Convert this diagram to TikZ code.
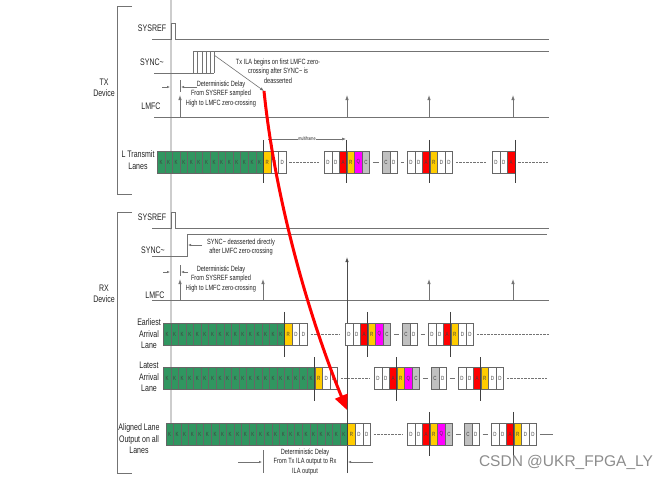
\documentclass[tikz,border=0pt]{standalone}
\usepackage{fontspec}
\setmainfont{Liberation Sans}[FakeStretch=0.74]
\newfontfamily\wmfont{Liberation Sans}
\usetikzlibrary{arrows.meta}

\definecolor{sigline}{RGB}{115,115,115}
\definecolor{guide}{RGB}{205,205,205}
\definecolor{kgreen}{RGB}{48,150,96}
\definecolor{ryellow}{RGB}{255,204,0}
\definecolor{ared}{RGB}{255,0,0}
\definecolor{qmag}{RGB}{255,0,255}
\definecolor{cgray}{RGB}{192,192,192}
\definecolor{txtcol}{RGB}{35,35,35}

\begin{document}
\begin{tikzpicture}[x=1pt,y=-1pt,
    sig/.style={draw=sigline,line width=0.8pt},
    lmfcarr/.style={sig,-{Latex[length=5pt,width=3.5pt]}},
    laneblk/.style={draw=black!60,line width=0.5pt,anchor=west,minimum width=7.58pt,minimum height=22pt,inner sep=0pt,font=\fontsize{6}{6}\selectfont,text=black!75},
    blkK/.style={fill=kgreen},
    blkR/.style={fill=ryellow},
    blkA/.style={fill=ared},
    blkQ/.style={fill=qmag},
    blkC/.style={fill=cgray},
    blkD/.style={fill=white},
    gap/.style={draw=sigline,line width=0.6pt,dash pattern=on 2.5pt off 1pt,shorten <=3pt,shorten >=5pt},
    link/.style={draw=sigline,line width=0.6pt,shorten <=3pt,shorten >=3pt},
    boundary/.style={draw=black!75,line width=0.8pt},
    lbl/.style={align=center,text=txtcol,font=\fontsize{9.5}{11.5}\selectfont},
    note/.style={align=center,text=txtcol,font=\fontsize{7.6}{9.5}\selectfont}]

    \useasboundingbox (0,0) rectangle (668,480);

    % guide line and device brackets
    \draw[guide,line width=1.2pt] (171,0) -- (171,423);
    \draw[sig] (132,6) -- (117,6) -- (117,194) -- (132,194);
    \draw[sig] (132,212) -- (117,212) -- (117,473) -- (132,473);

    % labels
    \node[lbl] (txdev) at (104,88) {TX\\Device};
    \node[lbl] (rxdev) at (104,294) {RX\\Device};
    \node[lbl] (txsysref) at (152,28) {SYSREF};
    \node[lbl] (txsync) at (152,62) {SYNC\textasciitilde};
    \node[lbl] (txlmfc) at (151,106) {LMFC};
    \node[lbl] (txlanes) at (138,160) {L Transmit\\Lanes};
    \node[lbl] (rxsysref) at (152,217) {SYSREF};
    \node[lbl] (rxsync) at (153,250) {SYNC\textasciitilde};
    \node[lbl] (rxlmfc) at (155,295) {LMFC};
    \node[lbl] (early) at (149,334) {Earliest\\Arrival\\Lane};
    \node[lbl] (late) at (149,377) {Latest\\Arrival\\Lane};
    \node[lbl] (aligned) at (139,439) {Aligned Lane\\Output on all\\Lanes};

    % TX signals
    \draw[sig] (152,39) -- (171,39) -- (171,23) -- (175,23) -- (175,39) -- (549,39);
    \draw[sig] (154,73) -- (214,73);
    \draw[sig] (193,73) -- (193,51) -- (549,51);
    \foreach \x in {197,202,206,210,214}
        \draw[sig] (\x,51) -- (\x,73);
    \draw[sig] (154,117) -- (549,117);
    \foreach \x in {180,347,429,513}
        \draw[lmfcarr] (\x,117) -- (\x,95);

    \coordinate (hatchend) at (214,55);
    \coordinate (ilastart) at (264,91);
    \node[note] (ilanote) at (278,71) {Tx ILA begins on first LMFC zero-\\crossing after SYNC\textasciitilde{} is\\deasserted};
    \draw[sig,line width=0.6pt,-{Latex[length=4pt,width=3pt]}] (hatchend) -- (ilastart);

    \node[note] (txdelay) at (221,94) {Deterministic Delay\\From SYSREF sampled\\High to LMFC zero-crossing};
    \draw[sig,line width=0.6pt,-{Latex[length=3pt,width=2.5pt]}] (162,87) -- (170,87);
    \draw[sig,line width=0.6pt,-{Latex[length=3pt,width=2.5pt]}] (197,87) -- (181,87);
    \draw[sig,line width=0.6pt] (180,80) -- (180,92);

    % TX lanes
    \foreach \n in {0,...,13}
        \node[laneblk,blkK] (tx-\n) at (157+\n*7.58,162) {K};
    \foreach \t [count=\n from 14] in {R,D,D}
        \node[laneblk,blk\t] (tx-\n) at (157+\n*7.58,162) {\t};
    \foreach \t [count=\n from 0] in {D,D,A,R,Q,C}
        \node[laneblk,blk\t] (txa-\n) at (324+\n*7.58,162) {\t};
    \foreach \t [count=\n from 0] in {C,D}
        \node[laneblk,blk\t] (txb-\n) at (382+\n*7.58,162) {\t};
    \foreach \t [count=\n from 0] in {D,D,A,R,D,D}
        \node[laneblk,blk\t] (txc-\n) at (407+\n*7.58,162) {\t};
    \foreach \t [count=\n from 0] in {D,D,A}
        \node[laneblk,blk\t] (txd-\n) at (492+\n*7.58,162) {\t};
    \coordinate (txend) at (548,162);

    \draw[gap] (tx-16.east) -- (txa-0.west);
    \draw[link] (txa-5.east) -- (txb-0.west);
    \draw[link] (txb-1.east) -- (txc-0.west);
    \draw[gap] (txc-5.east) -- (txd-0.west);
    \draw[gap,shorten >=0pt] (txd-2.east) -- (txend);

    \draw[boundary] ([yshift=11pt]tx-14.north west) -- ([yshift=-10pt]tx-14.south west);
    \draw[boundary] ([yshift=11pt]txa-3.north west) -- ([yshift=-10pt]txa-3.south west);
    \draw[boundary] ([yshift=11pt]txc-3.north west) -- ([yshift=-10pt]txc-3.south west);
    \draw[boundary] ([yshift=11pt]txd-2.north east) -- ([yshift=-10pt]txd-2.south east);

    \draw[sig,line width=0.6pt,-{Latex[length=4pt,width=3pt]}] (268,139) -- (346,139)
        node[midway,fill=white,inner sep=0.5pt,text=txtcol,font=\fontsize{5}{5}\selectfont] (mframe) {multiframe};

    % RX signals
    \draw[sig] (152,228) -- (171,228) -- (171,212) -- (175,212) -- (175,228) -- (549,228);
    \draw[sig] (152,256) -- (187,256) -- (187,234) -- (547,234);
    \node[note] (syncnote) at (241,247) {SYNC\textasciitilde{} deasserted directly\\after LMFC zero-crossing};
    \draw[sig,line width=0.6pt,-{Latex[length=3pt,width=2.5pt]}] (202,245) -- (188,245);

    \node[note] (rxdelay) at (221,279) {Deterministic Delay\\From SYSREF sampled\\High to LMFC zero-crossing};
    \draw[sig,line width=0.6pt,-{Latex[length=3pt,width=2.5pt]}] (163,272) -- (170,272);
    \draw[sig,line width=0.6pt,-{Latex[length=3pt,width=2.5pt]}] (188,272) -- (181,272);
    \draw[sig,line width=0.6pt] (180,265) -- (180,276);

    \draw[sig] (152,300) -- (549,300);
    \foreach \x in {180,263,429,513}
        \draw[lmfcarr] (\x,300) -- (\x,279);
    \draw[lmfcarr,draw=black!70] (347,473) -- (347,257);

    % earliest arrival lane
    \foreach \n in {0,...,15}
        \node[laneblk,blkK] (ea-\n) at (163+\n*7.58,334) {K};
    \foreach \t [count=\n from 16] in {R,D,D}
        \node[laneblk,blk\t] (ea-\n) at (163+\n*7.58,334) {\t};
    \foreach \t [count=\n from 0] in {D,D,A,R,Q,C}
        \node[laneblk,blk\t] (eaa-\n) at (345+\n*7.58,334) {\t};
    \foreach \t [count=\n from 0] in {C,D}
        \node[laneblk,blk\t] (eab-\n) at (402+\n*7.58,334) {\t};
    \foreach \t [count=\n from 0] in {D,D,A,R,D,D}
        \node[laneblk,blk\t] (eac-\n) at (428+\n*7.58,334) {\t};
    \coordinate (eaend) at (549,334);

    \draw[gap] (ea-18.east) -- (eaa-0.west);
    \draw[link] (eaa-5.east) -- (eab-0.west);
    \draw[link] (eab-1.east) -- (eac-0.west);
    \draw[gap,shorten >=0pt] (eac-5.east) -- (eaend);

    \draw[boundary] ([yshift=11pt]ea-16.north west) -- ([yshift=-12pt]ea-16.south west);
    \draw[boundary] ([yshift=11pt]eaa-3.north west) -- ([yshift=-12pt]eaa-3.south west);
    \draw[boundary] ([yshift=11pt]eac-3.north west) -- ([yshift=-12pt]eac-3.south west);

    % latest arrival lane
    \foreach \n in {0,...,19}
        \node[laneblk,blkK] (la-\n) at (163+\n*7.58,378.5) {K};
    \foreach \t [count=\n from 20] in {R,D,D}
        \node[laneblk,blk\t] (la-\n) at (163+\n*7.58,378.5) {\t};
    \foreach \t [count=\n from 0] in {D,D,A,R,Q,C}
        \node[laneblk,blk\t] (laa-\n) at (374+\n*7.58,378.5) {\t};
    \foreach \t [count=\n from 0] in {C,D}
        \node[laneblk,blk\t] (lab-\n) at (431+\n*7.58,378.5) {\t};
    \foreach \t [count=\n from 0] in {D,D,A,R,D,D}
        \node[laneblk,blk\t] (lac-\n) at (458+\n*7.58,378.5) {\t};
    \coordinate (laend) at (547,378.5);

    \draw[gap] (la-22.east) -- (laa-0.west);
    \draw[link] (laa-5.east) -- (lab-0.west);
    \draw[link] (lab-1.east) -- (lac-0.west);
    \draw[gap,shorten >=0pt] (lac-5.east) -- (laend);

    \draw[boundary] ([yshift=10pt]la-20.north west) -- ([yshift=-11pt]la-20.south west);
    \draw[boundary] ([yshift=10pt]laa-3.north west) -- ([yshift=-11pt]laa-3.south west);
    \draw[boundary] ([yshift=10pt]lac-3.north west) -- ([yshift=-11pt]lac-3.south west);

    % aligned lane output
    \foreach \n in {0,...,23}
        \node[laneblk,blkK] (al-\n) at (165.5+\n*7.58,434) {K};
    \foreach \t [count=\n from 24] in {R,D,D}
        \node[laneblk,blk\t] (al-\n) at (165.5+\n*7.58,434) {\t};
    \foreach \t [count=\n from 0] in {D,D,A,R,Q,C}
        \node[laneblk,blk\t] (ala-\n) at (407+\n*7.58,434) {\t};
    \foreach \t [count=\n from 0] in {C,D}
        \node[laneblk,blk\t] (alb-\n) at (464+\n*7.58,434) {\t};
    \foreach \t [count=\n from 0] in {D,D,A,R,D,D}
        \node[laneblk,blk\t] (alc-\n) at (491+\n*7.58,434) {\t};
    \coordinate (alend) at (553,434);

    \draw[gap] (al-26.east) -- (ala-0.west);
    \draw[link] (ala-5.east) -- (alb-0.west);
    \draw[link] (alb-1.east) -- (alc-0.west);
    \draw[link,shorten >=0pt] (alc-5.east) -- (alend);

    \draw[boundary] (al-24.north west) -- (al-24.south west);
    \draw[boundary] ([yshift=11pt]ala-3.north west) -- ([yshift=-11pt]ala-3.south west);
    \draw[boundary] ([yshift=11pt]alc-3.north west) -- ([yshift=-11pt]alc-3.south west);

    % lane delay
    \node[note] (ilsdelay) at (305,462) {Deterministic Delay\\From Tx ILA output to Rx\\ILA output};
    \draw[sig,line width=0.6pt,-{Latex[length=3pt,width=2.5pt]}] (238,462) -- (262,462);
    \draw[sig,line width=0.6pt] (263,450) -- (263,473);
    \draw[sig,line width=0.6pt,-{Latex[length=3pt,width=2.5pt]}] (373,462) -- (348,462);

    % ILA path
    \coordinate (ilaend) at (347,410);
    \draw[ared,line width=3pt,-{Triangle[length=15pt,width=13pt]}] (ilastart) .. controls (275,200) and (310,320) .. (ilaend);

    \node[text=black!45,font=\wmfont\fontsize{15.5}{16}\selectfont] (wmark) at (566,462) {CSDN @UKR\_FPGA\_LY};
\end{tikzpicture}
\end{document}
